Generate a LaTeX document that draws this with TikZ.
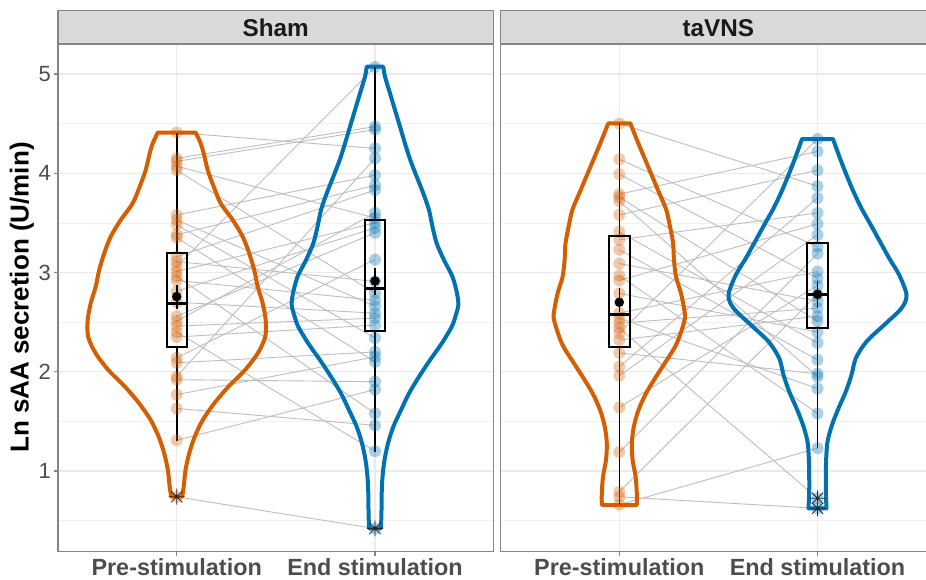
\documentclass[tikz,border=0pt]{standalone}
\usepackage{fontspec}
\setmainfont{Liberation Sans}
\definecolor{preorange}{HTML}{D55E00}
\definecolor{endblue}{HTML}{0072B2}
\definecolor{framegray}{HTML}{858585}
\definecolor{stripgray}{HTML}{D9D9D9}
\definecolor{gridgray}{HTML}{EBEBEB}
\definecolor{pairgray}{HTML}{BEBEBE}
\definecolor{ticktext}{HTML}{4D4D4D}
\definecolor{striptext}{HTML}{1A1A1A}

\tikzset{
  frameline/.style={draw=framegray, line width=1.1pt},
  stripbox/.style={fill=stripgray, draw=framegray, line width=1.1pt},
  majorgrid/.style={gridgray, line width=1.1pt},
  minorgrid/.style={gridgray!70, line width=0.55pt},
  pairline/.style={pairgray, line width=0.9pt},
  violinline/.style={line width=4pt, line join=round},
  predot/.style={fill=preorange, opacity=0.33},
  enddot/.style={fill=endblue, opacity=0.33},
  whisker/.style={black, line width=1.6pt},
  boxline/.style={black, line width=1.8pt},
  medianline/.style={black, line width=3pt},
  ticklabel/.style={inner sep=0pt, text=ticktext, font=\fontsize{22}{26}\selectfont},
  catlabel/.style={inner sep=0pt, text=ticktext, anchor=base, font=\fontsize{23.4}{28}\selectfont\bfseries},
  striplabel/.style={inner sep=0pt, text=striptext, anchor=base, font=\fontsize{24.3}{29}\selectfont\bfseries},
  axistitle/.style={inner sep=0pt, text=black, font=\fontsize{26}{31}\selectfont\bfseries},
  outlierstar/.pic={\draw[black!85, line width=0.8pt] (-8pt,0) -- (8pt,0) (0,-8pt) -- (0,8pt)
    (-5.7pt,-5.7pt) -- (5.7pt,5.7pt) (-5.7pt,5.7pt) -- (5.7pt,-5.7pt);}
}

\begin{document}
\begin{tikzpicture}[x=1pt, y=99.25pt]
\useasboundingbox (0,-0.0882) rectangle (926,5.7456);
\def\shampre{176.7}
\def\shamend{375}
\def\vnspre{619.3}
\def\vnsend{817.5}

\foreach \l/\r/\a/\b in {58/493.3/176.7/375, 500.7/940/619.3/817.5} {
  \fill[white] (\l,0.187) rectangle (\r,5.302);
  \foreach \v in {0.5,1.5,...,4.5} \draw[minorgrid] (\l,\v) -- (\r,\v);
  \foreach \v in {1,...,5} \draw[majorgrid] (\l,\v) -- (\r,\v);
  \draw[majorgrid] (\a,0.187) -- (\a,5.302) (\b,0.187) -- (\b,5.302);
  \draw[frameline] (\l,0.187) rectangle (\r,5.302);
  \draw[stripbox] (\l,5.302) rectangle (\r,5.638);
  \draw[frameline] (\a,0.187) -- (\a,0.147) (\b,0.187) -- (\b,0.147);
}

\foreach \a/\b in {4.41/4.25, 4.15/4.47, 4.12/4.44, 4.07/3.55, 4.03/2.79, 3.58/3.98, 3.53/2.66,
  3.48/2.34, 3.38/3.88, 3.35/2.10, 3.16/3.83, 3.11/2.91, 3.06/5.07, 3.01/3.50, 2.96/1.58,
  2.92/2.72, 2.81/3.45, 2.70/2.59, 2.56/3.40, 2.40/1.20, 2.46/2.54, 2.51/3.60, 2.35/2.47,
  2.14/3.13, 2.09/2.20, 1.95/4.15, 1.92/1.90, 1.77/2.15, 1.63/1.46, 1.31/1.82, 0.74/0.42}
  \draw[pairline] (\shampre,\a) -- (\shamend,\b);

\foreach \a/\b in {4.50/3.87, 4.14/3.26, 3.99/2.94, 3.79/4.22, 3.76/2.51, 3.72/1.95, 3.58/4.03,
  3.41/2.29, 3.33/3.60, 3.23/2.12, 3.09/2.71, 2.97/1.58, 2.92/3.49, 2.79/2.40, 2.59/3.01,
  2.54/1.83, 2.49/2.64, 2.44/0.725, 2.39/4.345, 2.32/2.56, 2.19/1.98, 2.05/3.75, 1.96/3.38,
  1.64/2.87, 1.19/3.19, 0.79/2.78, 0.74/0.624, 0.66/1.23}
  \draw[pairline] (\vnspre,\a) -- (\vnsend,\b);

\foreach \s in {-1,1} {
  \draw[violinline, preorange, xshift=176.7pt, xscale=\s] (0,4.409) -- plot[smooth] coordinates {
    (19,4.409) (24,4.30) (27,4.201) (31,4.033) (37,3.865) (44,3.697) (56,3.529) (66,3.361)
    (72.5,3.193) (77.5,3.025) (81,2.857) (86,2.689) (89,2.52) (88.5,2.352) (81,2.185)
    (68.3,2.017) (51.7,1.849) (37.5,1.681) (26,1.513) (18,1.345) (12.5,1.177) (8.8,1.009)
    (7,0.841) (5.5,0.741)} -- (0,0.741);
  \draw[violinline, endblue, xshift=375pt, xscale=\s] (0,5.074) -- plot[smooth] coordinates {
    (8.3,5.074) (10,4.973) (15,4.805) (20,4.637) (25,4.469) (30,4.30) (35.3,4.133)
    (41.7,3.965) (48.3,3.797) (54,3.629) (57.5,3.461) (61.7,3.293) (69,3.125) (77.5,2.957)
    (82,2.79) (83.3,2.672) (80.5,2.56) (76.7,2.453) (66.7,2.285) (55,2.118) (44,1.95)
    (34,1.782) (26,1.614) (18.3,1.446) (13,1.278) (9.5,1.11) (7.5,0.942) (6.7,0.774)
    (6.5,0.606) (6,0.422)} -- (0,0.422);
  \draw[violinline, preorange, xshift=619.3pt, xscale=\s] (0,4.503) -- plot[smooth] coordinates {
    (11,4.503) (19,4.302) (26,4.134) (33,3.966) (40,3.798) (47,3.63) (50.7,3.462)
    (53.8,3.294) (54.7,3.126) (56.7,2.958) (61.7,2.79) (65,2.622) (65.3,2.521) (57.5,2.286)
    (47.5,2.118) (36.7,1.95) (26.7,1.782) (19.2,1.614) (14.5,1.446) (12.5,1.279)
    (13.3,1.111) (16.3,0.943) (17.5,0.775) (17.5,0.657)} -- (0,0.657);
  \draw[violinline, endblue, xshift=817.5pt, xscale=\s] (0,4.345) -- plot[smooth] coordinates {
    (15.5,4.345) (22.5,4.15) (29,3.982) (36,3.814) (44,3.646) (53.3,3.479) (62.5,3.311)
    (71.7,3.143) (81.7,2.975) (89,2.774) (84,2.64) (66.7,2.472) (49,2.304) (38.3,2.136)
    (34,1.968) (28.3,1.8) (21,1.632) (14.5,1.464) (10,1.296) (8.7,1.128) (8.3,0.96)
    (8.3,0.792) (9,0.624)} -- (0,0.624);
}

\draw[whisker] (\shampre,3.20) -- (\shampre,4.409) (\shampre,2.25) -- (\shampre,1.30);
\draw[whisker] (\shamend,3.53) -- (\shamend,5.074) (\shamend,2.41) -- (\shamend,1.195);
\draw[whisker] (\vnspre,3.368) -- (\vnspre,4.503) (\vnspre,2.252) -- (\vnspre,0.657);
\draw[whisker] (\vnsend,3.294) -- (\vnsend,4.345) (\vnsend,2.444) -- (\vnsend,1.228);

\foreach \v in {4.41,4.15,4.12,4.07,4.03,3.58,3.53,3.48,3.38,3.35,3.16,3.11,3.06,3.01,2.96,
  2.92,2.81,2.70,2.56,2.40,2.46,2.51,2.35,2.14,2.09,1.95,1.92,1.77,1.63,1.31,0.74}
  \path[predot] (\shampre,\v) circle (6pt);
\foreach \v in {4.25,4.47,4.44,3.55,2.79,3.98,2.66,2.34,3.88,2.10,3.83,2.91,5.07,3.50,1.58,
  2.72,3.45,2.59,3.40,1.20,2.54,3.60,2.47,3.13,2.20,4.15,1.90,2.15,1.46,1.82,0.42}
  \path[enddot] (\shamend,\v) circle (6pt);
\foreach \v in {4.50,4.14,3.99,3.79,3.76,3.72,3.58,3.41,3.33,3.23,3.09,2.97,2.92,2.79,2.59,
  2.54,2.49,2.44,2.39,2.32,2.19,2.05,1.96,1.64,1.19,0.79,0.74,0.66}
  \path[predot] (\vnspre,\v) circle (6pt);
\foreach \v in {3.87,3.26,2.94,4.22,2.51,1.95,4.03,2.29,3.60,2.12,2.71,1.58,3.49,2.40,3.01,
  1.83,2.64,0.725,4.345,2.56,1.98,3.75,3.38,2.87,3.19,2.78,0.624,1.23}
  \path[enddot] (\vnsend,\v) circle (6pt);

\draw[boxline] (166.7,2.25) rectangle (186.7,3.20);
\draw[medianline] (166.7,2.683) -- (186.7,2.683);
\draw[whisker] (\shampre,2.637) -- (\shampre,2.877);
\fill (\shampre,2.757) circle (4.8pt);
\pic at (\shampre,0.741) {outlierstar};

\draw[boxline] (365,2.41) rectangle (385,3.53);
\draw[medianline] (365,2.84) -- (385,2.84);
\draw[whisker] (\shamend,2.77) -- (\shamend,3.05);
\fill (\shamend,2.914) circle (4.8pt);
\pic at (\shamend,0.422) {outlierstar};

\draw[boxline] (608.8,2.252) rectangle (629.8,3.368);
\draw[medianline] (608.8,2.578) -- (629.8,2.578);
\draw[whisker] (\vnspre,2.60) -- (\vnspre,2.84);
\fill (\vnspre,2.70) circle (4.8pt);

\draw[boxline] (807,2.444) rectangle (828,3.294);
\draw[medianline] (807,2.783) -- (828,2.783);
\draw[whisker] (\vnsend,2.64) -- (\vnsend,2.91);
\fill (\vnsend,2.78) circle (4.8pt);
\pic at (\vnsend,0.725) {outlierstar};
\pic at (\vnsend,0.624) {outlierstar};

\foreach \v in {1,...,5} {
  \draw[frameline] (54.3,\v) -- (58,\v);
  \node[ticklabel, anchor=east] (ytick\v) at (51,\v) {\v};
}
\node[axistitle, rotate=90] (ytitle) at (22,2.748) {Ln sAA secretion (U/min)};
\node[striplabel] (shamstrip) at (275.7,5.376) {Sham};
\node[striplabel] (vnsstrip) at (718.3,5.376) {taVNS};
\node[catlabel] (shampretext) at (\shampre,-0.048) {Pre-stimulation};
\node[catlabel] (shamendtext) at (\shamend,-0.048) {End stimulation};
\node[catlabel] (vnspretext) at (\vnspre,-0.048) {Pre-stimulation};
\node[catlabel] (vnsendtext) at (\vnsend,-0.048) {End stimulation};
\end{tikzpicture}
\end{document}
